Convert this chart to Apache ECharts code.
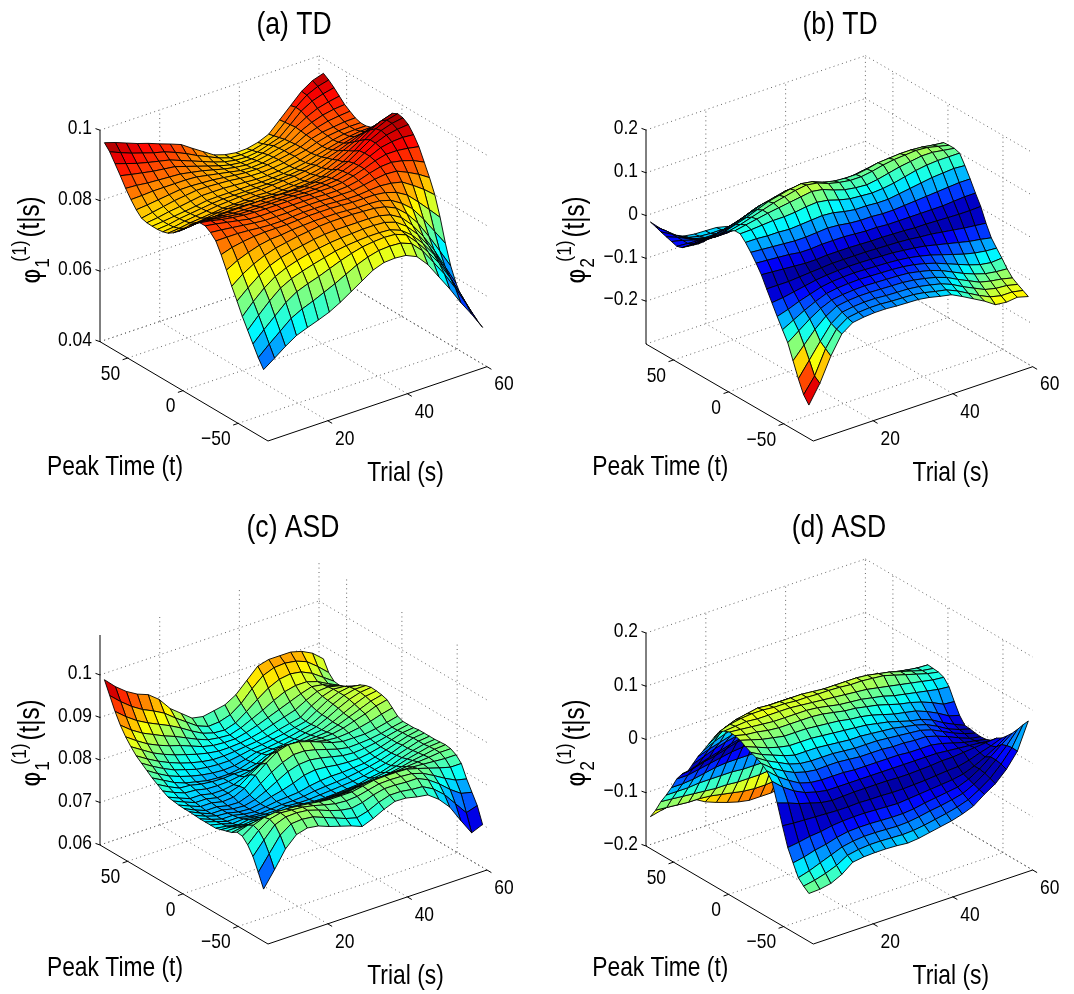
<!DOCTYPE html>
<html><head><meta charset="utf-8">
<style>html,body{margin:0;padding:0;background:#fff}#c{width:1074px;height:994px}</style>
<script src="https://cdn.jsdelivr.net/npm/echarts@6/dist/echarts.min.js"></script></head>
<body><div id="c"></div>
<script>
// rows: Peak Time t (low to high); columns: Trial s (low to high)
const trialGrid=[5,7.75,10.5,13.25,16,18.75,21.5,24.25,27,29.75,32.5,35.25,38,40.75,43.5,46.25,49,51.75,54.5,57.25,60];
const peakGrid=[-73,-68.2,-63.4,-58.6,-53.8,-49,-44.2,-39.4,-34.6,-29.8,-25,-20.2,-15.4,-10.6,-5.8,-1,3.8,8.6,13.4,18.2,23,27.8,32.6,37.4,42.2,47,51.8,56.6,61.4,66.2,71];
const trialTicks=[20,40,60];
const peakTicks=[-50,0,50];
// panel (a), value x 1e-4
const phi1TD=[
[595,617,640,660,672,683,695,712,732,752,772,783,785,782,768,735,690,645,596,552,504],
[620,648,674,700,716,728,742,756,772,788,800,808,810,808,796,765,722,678,628,572,515],
[650,680,708,736,756,768,778,790,802,812,820,824,826,824,812,780,742,700,648,590,528],
[680,712,742,768,784,795,804,812,820,825,828,830,830,828,816,792,758,716,665,604,542],
[710,742,770,792,806,816,824,830,835,838,840,842,842,840,830,808,775,732,680,618,556],
[745,772,796,814,826,834,840,846,850,852,852,852,852,850,842,824,792,750,700,642,585],
[778,802,820,834,844,850,856,860,864,866,866,866,864,862,856,842,815,778,730,678,625],
[815,832,844,854,860,862,866,868,870,870,870,868,866,866,864,855,836,810,770,725,680],
[850,860,866,870,872,872,872,874,876,876,876,874,872,872,872,868,858,840,810,778,745],
[880,880,880,878,875,873,873,875,877,877,877,875,873,873,876,878,875,868,848,826,800],
[895,892,888,884,880,877,877,877,879,879,879,877,877,877,882,888,892,890,876,860,840],
[905,900,894,888,882,880,880,880,880,880,880,878,878,880,886,896,904,906,900,890,875],
[905,900,893,888,884,882,881,881,881,881,879,879,879,882,890,900,912,920,920,916,910],
[895,891,887,882,878,877,877,877,877,877,875,875,877,880,888,900,916,930,936,938,935],
[880,879,877,875,872,871,871,871,871,871,871,871,873,876,886,898,916,934,946,952,955],
[860,864,867,866,866,867,867,867,867,865,865,865,867,872,882,894,914,934,950,960,965],
[845,848,851,852,854,855,855,853,853,853,853,855,857,862,872,884,904,926,946,960,968],
[832,834,838,842,846,848,848,848,848,846,848,850,852,858,866,880,896,914,934,950,960],
[822,825,830,833,836,840,841,842,844,842,844,846,848,853,860,873,888,902,918,930,940],
[817,820,826,830,834,838,840,842,842,842,844,846,848,852,858,868,878,890,902,912,915],
[815,818,824,828,832,836,838,838,838,838,838,840,842,846,852,862,872,880,888,892,895],
[815,818,822,826,830,835,836,836,836,836,835,836,838,842,848,858,866,874,880,884,885],
[816,820,826,830,835,840,840,840,838,836,834,834,836,840,846,855,864,872,878,880,880],
[820,826,832,838,842,846,846,844,842,838,835,834,836,840,848,855,866,874,878,880,880],
[835,838,842,846,850,850,848,846,842,838,835,834,836,840,846,855,868,876,880,884,885],
[855,856,858,858,858,858,856,850,844,838,832,830,832,838,846,854,870,880,888,892,895],
[878,876,872,870,868,866,860,854,846,838,832,828,830,836,844,852,872,886,896,902,905],
[905,898,892,886,882,878,868,858,848,838,830,826,826,832,842,850,874,892,906,914,920],
[930,920,910,902,895,888,876,864,852,840,830,824,822,826,836,846,872,900,918,928,935],
[955,942,930,920,910,902,890,876,860,846,832,822,820,822,830,842,870,902,926,940,948],
[972,962,950,938,928,916,905,893,872,852,832,822,817,818,825,838,868,898,928,948,958]];
// panel (b), value x 1e-3
const phi2TD=[
[-222,-180,-125,-82,-64,-60,-58,-58,-60,-61,-62,-66,-72,-77,-90,-104,-118,-135,-138,-135,-142],
[-205,-170,-115,-78,-60,-56,-54,-54,-56,-57,-58,-62,-68,-73,-84,-98,-112,-124,-130,-130,-135],
[-175,-140,-105,-72,-54,-50,-48,-48,-50,-51,-52,-55,-60,-66,-76,-90,-102,-114,-120,-122,-128],
[-140,-112,-84,-62,-47,-43,-41,-41,-42,-43,-44,-47,-52,-58,-67,-80,-92,-104,-110,-114,-120],
[-105,-86,-67,-51,-40,-36,-34,-33,-34,-35,-36,-38,-43,-49,-58,-70,-82,-92,-100,-104,-106],
[-82,-68,-54,-42,-32,-28,-26,-25,-26,-27,-28,-30,-34,-40,-48,-58,-68,-78,-86,-90,-88],
[-58,-50,-40,-32,-24,-20,-18,-17,-18,-19,-20,-22,-25,-30,-36,-44,-52,-60,-66,-70,-72],
[-33,-30,-25,-20,-15,-12,-10,-9,-9,-10,-11,-12,-15,-18,-22,-28,-34,-40,-46,-50,-55],
[-8,-8,-8,-6,-4,-2,0,0,0,0,-1,-2,-3,-5,-8,-10,-14,-18,-22,-25,-28],
[18,16,14,12,10,10,12,12,12,11,10,10,9,8,6,6,5,4,3,3,4],
[38,36,34,32,28,28,30,30,30,28,26,26,24,24,24,24,24,24,26,28,28],
[56,54,52,50,48,48,50,52,50,46,44,44,42,42,44,46,48,50,52,54,54],
[72,72,70,70,68,70,72,74,72,66,62,62,60,60,64,68,72,76,78,80,78],
[85,86,88,90,90,92,96,98,94,86,80,78,76,78,82,88,94,98,100,100,100],
[85,90,95,100,104,108,112,116,112,102,94,90,88,92,98,104,108,112,112,108,104],
[78,84,92,100,108,114,120,124,120,110,104,100,100,104,110,114,116,118,116,110,104],
[68,76,84,94,104,110,116,120,116,106,100,98,98,102,108,110,112,112,110,106,103],
[55,62,72,82,92,98,104,106,102,94,88,86,86,90,94,96,96,96,94,90,88],
[44,50,58,68,78,82,88,90,86,80,74,72,72,76,80,82,82,80,78,76,72],
[30,38,44,52,62,66,72,74,70,64,60,58,58,60,64,66,66,64,62,60,56],
[16,24,30,36,44,50,54,56,54,48,44,42,42,44,48,50,50,48,46,44,40],
[4,10,14,20,26,32,38,40,38,32,28,26,26,28,32,34,34,32,30,28,26],
[-6,-4,0,4,10,14,20,22,20,16,12,10,10,12,16,18,18,16,14,12,10],
[-16,-14,-14,-10,-6,-2,2,4,4,0,-4,-6,-6,-4,0,2,2,0,-2,-4,-6],
[-26,-26,-26,-26,-22,-18,-16,-14,-18,-26,-34,-38,-40,-40,-38,-36,-36,-38,-38,-36,-34],
[-30,-32,-34,-38,-38,-36,-34,-34,-40,-50,-58,-62,-64,-64,-62,-60,-58,-58,-58,-56,-52],
[-26,-32,-40,-46,-50,-50,-48,-50,-58,-70,-80,-86,-88,-88,-86,-84,-82,-80,-78,-76,-72],
[-22,-32,-44,-54,-58,-58,-58,-62,-72,-86,-98,-104,-106,-106,-104,-102,-100,-98,-96,-94,-90],
[-18,-32,-48,-60,-66,-66,-66,-72,-84,-100,-112,-118,-120,-120,-118,-116,-114,-112,-110,-108,-104],
[-13,-32,-52,-64,-70,-72,-72,-78,-92,-110,-124,-130,-132,-132,-130,-128,-126,-124,-122,-120,-116],
[-9,-34,-56,-68,-72,-73,-74,-80,-98,-116,-130,-136,-138,-138,-136,-134,-132,-130,-128,-126,-122]];
// panel (c), value x 1e-4
const phi1ASD=[
[723,760,800,825,832,828,818,810,802,792,802,815,825,824,818,814,795,768,728,690,701],
[755,790,825,843,845,842,832,822,812,805,812,824,832,832,828,826,812,790,760,730,738],
[785,815,842,852,853,850,842,832,824,820,825,834,840,840,838,838,826,808,786,768,762],
[805,830,848,854,852,850,845,838,832,830,832,838,844,845,844,842,834,820,805,792,786],
[818,835,845,848,847,845,842,838,835,835,835,840,845,846,846,845,838,830,822,815,815],
[820,828,832,834,832,830,830,828,826,826,826,830,834,836,836,835,834,832,830,828,828],
[812,816,816,816,815,815,814,814,814,815,815,818,820,822,824,825,828,830,832,835,835],
[808,808,806,806,804,804,804,804,802,804,805,806,808,810,812,815,820,826,830,835,837],
[804,802,798,800,796,794,794,796,794,794,795,796,798,800,804,808,814,822,828,834,836],
[800,796,790,794,790,788,788,790,788,785,785,786,788,790,796,800,808,818,826,832,835],
[800,794,786,788,784,782,782,784,782,782,784,786,788,790,794,800,806,816,824,832,835],
[800,792,784,784,778,776,778,780,780,782,786,788,790,792,796,800,806,814,824,832,835],
[800,790,782,782,776,773,776,780,782,784,790,794,796,796,798,800,806,814,822,830,835],
[801,790,782,780,774,772,776,784,790,798,808,812,810,806,804,804,808,814,822,830,833],
[802,790,780,780,774,772,778,790,804,818,826,828,824,818,812,810,812,816,822,828,833],
[802,790,780,780,774,773,782,800,818,832,842,842,836,828,820,815,816,818,822,828,833],
[803,792,782,782,776,778,790,812,832,850,858,856,848,838,828,822,822,822,826,832,838],
[805,794,784,784,778,780,788,806,822,838,846,846,840,832,826,824,826,830,836,844,850],
[807,796,786,786,780,780,784,794,806,820,835,834,830,826,824,825,830,838,846,856,862],
[814,802,792,790,784,783,784,788,792,802,815,818,818,818,820,822,830,840,850,860,866],
[822,808,796,794,788,785,784,786,786,792,804,808,810,812,816,820,830,842,854,864,868],
[830,816,802,792,786,780,778,778,782,790,800,802,804,808,814,820,832,846,858,866,869],
[840,824,810,800,792,786,782,780,782,788,796,798,802,806,812,818,832,848,860,866,866],
[850,834,820,808,800,792,788,786,786,790,795,798,802,806,812,818,834,850,860,864,860],
[860,844,830,818,808,800,794,790,790,792,795,798,802,808,814,820,838,852,860,858,850],
[874,858,842,830,820,812,804,798,794,794,796,800,806,814,822,830,844,856,858,852,840],
[890,872,856,844,834,826,816,806,800,798,798,804,812,822,832,842,852,860,856,844,832],
[910,890,874,862,850,840,828,816,806,802,800,808,820,832,846,858,864,864,856,842,830],
[935,914,896,882,870,858,844,828,814,806,804,812,830,850,868,880,884,880,868,850,832],
[965,942,922,906,894,880,860,842,824,814,816,824,842,868,890,900,902,898,888,868,845],
[995,970,950,935,925,905,875,855,835,830,835,840,855,880,905,912,912,912,905,892,870]];
// panel (d), value x 1e-3
const phi2ASD=[
[-110,-109,-105,-95,-79,-76,-75,-75,-76,-78,-76,-72,-68,-64,-58,-50,-35,-22,-2,25,75],
[-102,-98,-92,-84,-72,-68,-66,-66,-67,-68,-67,-64,-60,-56,-51,-44,-32,-18,2,26,62],
[-92,-86,-78,-70,-62,-58,-56,-56,-57,-58,-57,-54,-50,-47,-43,-38,-28,-14,4,24,48],
[-70,-66,-60,-56,-50,-46,-45,-45,-46,-47,-47,-45,-41,-38,-35,-32,-24,-12,4,20,35],
[-47,-44,-40,-38,-34,-32,-31,-31,-32,-33,-34,-32,-30,-28,-26,-24,-20,-12,-2,10,24],
[-12,-14,-15,-16,-17,-18,-18,-17,-18,-18,-19,-19,-18,-17,-15,-13,-12,-7,0,6,14],
[25,18,10,4,-2,-5,-4,-3,-3,-3,-3,-4,-4,-3,-2,0,0,2,4,6,8],
[60,42,28,18,12,8,8,8,8,8,8,8,8,8,8,8,6,4,2,0,-2],
[74,56,42,30,24,22,22,22,20,20,20,20,20,18,18,18,14,8,2,-2,-6],
[82,66,54,44,38,35,36,36,34,32,32,32,30,30,28,28,22,14,5,-3,-7],
[87,74,64,54,48,46,46,46,44,42,42,42,40,38,36,34,28,18,8,0,-6],
[91,80,72,64,58,58,58,56,54,52,52,50,48,46,42,38,32,22,10,2,-4],
[96,88,80,74,70,70,70,68,66,64,62,60,56,52,46,40,36,28,16,6,-3],
[102,96,90,86,82,82,82,80,78,76,72,70,66,60,54,50,46,38,28,16,10],
[105,100,98,94,92,92,92,92,90,86,82,80,76,72,66,60,56,50,42,32,30],
[106,104,102,100,98,98,98,98,96,92,88,86,84,80,76,70,66,62,58,54,52],
[102,104,106,104,104,104,104,102,100,98,96,94,92,90,86,82,78,74,70,66,64],
[95,102,106,108,108,106,106,104,104,103,103,102,100,100,98,96,90,84,78,72,68],
[78,90,98,102,106,104,104,104,104,102,100,100,100,100,98,94,90,84,78,72,69],
[60,72,84,90,94,95,95,95,94,92,90,90,90,90,88,86,82,78,74,71,70],
[42,52,60,66,70,70,72,74,75,75,75,74,74,74,74,72,70,68,66,62,60],
[25,32,38,44,50,54,56,58,58,58,58,58,58,58,56,56,54,52,50,48,46],
[5,12,20,26,30,35,36,38,40,40,40,40,40,40,40,40,38,36,34,32,30],
[-15,-8,-2,4,10,15,18,20,20,22,22,22,22,22,22,22,22,20,18,16,15],
[-25,-22,-16,-12,-6,0,2,4,4,4,5,5,5,5,5,5,4,4,2,2,0],
[-40,-40,-36,-32,-28,-24,-22,-20,-20,-20,-20,-20,-20,-18,-18,-16,-16,-16,-16,-16,-15],
[-62,-62,-60,-56,-52,-50,-50,-50,-50,-50,-50,-50,-48,-46,-44,-40,-38,-36,-34,-32,-30],
[-82,-82,-82,-80,-80,-80,-80,-82,-82,-82,-82,-82,-78,-76,-72,-68,-62,-56,-52,-50,-50],
[-100,-102,-104,-106,-108,-110,-110,-112,-112,-112,-110,-110,-108,-104,-100,-95,-90,-82,-76,-72,-70],
[-122,-124,-126,-128,-128,-130,-134,-138,-142,-144,-144,-142,-138,-134,-128,-122,-114,-106,-100,-92,-85],
[-140,-135,-130,-127,-135,-147,-155,-162,-168,-172,-172,-172,-168,-162,-156,-150,-140,-130,-120,-110,-100]];
const zTicksA=[0.04,0.06,0.08,0.1], zTicksB=[-0.2,-0.1,0,0.1,0.2], zTicksC=[0.06,0.07,0.08,0.09,0.1], zTicksD=[-0.2,-0.1,0,0.1,0.2];
const titles=['(a) TD','(b) TD','(c) ASD','(d) ASD'];

const FONT='"Liberation Sans",Arial,sans-serif', NARROW=0.83;
const sAxis=[5,60], tAxis=[-77,75];
const minus=v=>String(v).replace('-','\u2212');
const panels=[
 {title:titles[0],tx:294,ty:25,F:[268,441],u:[219,74.3],v:[-168,99.3],zr:[0.04,0.1],zPx:211.5,ticks:zTicksA,data:phi1TD,scale:1e-4,abs:false,zero:0,cr:[0.0504,0.0985],sub:'1'},
 {title:titles[1],tx:840,ty:25,F:[813.3,441],u:[219.4,74.3],v:[-167.3,97],zr:[-0.3,0.2],zPx:214,ticks:zTicksB,data:phi2TD,scale:1e-3,abs:true,zero:0,cr:[0,0.215],sub:'2'},
 {title:titles[2],tx:293,ty:528,F:[268,944],u:[219,74],v:[-168,99],zr:[0.06,0.1094],zPx:210,ticks:zTicksC,data:phi1ASD,scale:1e-4,abs:false,zero:0,cr:[0.0685,0.0995],sub:'1'},
 {title:titles[3],tx:839,ty:528,F:[813.3,944],u:[219.4,74],v:[-167.3,98],zr:[-0.2,0.2],zPx:213,ticks:zTicksD,data:phi2ASD,scale:1e-3,abs:true,zero:-0.011,cr:[0,0.196],sub:'2'}
];
function jet(x){x=Math.max(0,Math.min(0.9999,x));x=(Math.floor(x*64)+0.5)/64;
 const c=v=>Math.round(255*Math.max(0,Math.min(1,1.5-Math.abs(4*x-v))));
 return 'rgb('+c(3)+','+c(2)+','+c(1)+')';}
function projector(p){return (s,t,z)=>{
 const fs=(s-sAxis[0])/(sAxis[1]-sAxis[0]),ft=(t-tAxis[0])/(tAxis[1]-tAxis[0]),fz=(z-p.zr[0])/(p.zr[1]-p.zr[0]);
 return [p.u[0]*fs+p.v[0]*ft,p.u[1]*fs+p.v[1]*ft+p.zPx*fz];};}

const grid=[],xAxis=[],yAxis=[],series=[];
panels.forEach((p,idx)=>{
 const H=p.u[1]+p.v[1]+p.zPx, W=p.u[0]-p.v[0];
 grid.push({left:p.F[0]+p.v[0],top:p.F[1]-H,width:W,height:H});
 xAxis.push({type:'value',gridIndex:idx,min:p.v[0],max:p.u[0],show:false});
 yAxis.push({type:'value',gridIndex:idx,min:0,max:H,show:false});
 const P=projector(p), [s0,s1]=sAxis,[t0,t1]=tAxis,[z0,z1]=p.zr;
 const dots=[],solid=[];
 p.ticks.forEach(z=>{dots.push([[s0,t1,z],[s1,t1,z]]);dots.push([[s1,t1,z],[s1,t0,z]]);});
 trialTicks.forEach(s=>{dots.push([[s,t0,z0],[s,t1,z0]]);if(s<s1)dots.push([[s,t1,z0],[s,t1,z1]]);});
 peakTicks.forEach(t=>{dots.push([[s0,t,z0],[s1,t,z0]]);dots.push([[s1,t,z0],[s1,t,z1]]);});
 dots.push([[s1,t1,z0],[s1,t1,z1]]);dots.push([[s0,t1,z0],[s1,t1,z0]]);dots.push([[s1,t1,z0],[s1,t0,z0]]);
 solid.push([[s0,t1,z0],[s0,t1,z1]],[[s0,t0,z0],[s0,t1,z0]],[[s0,t0,z0],[s1,t0,z0]]);
 const tickMarks=[];
 p.ticks.forEach(z=>tickMarks.push({at:[s0,t1,z],d:[-4.5,-1.6]}));
 trialTicks.forEach(s=>tickMarks.push({at:[s,t0,z0],d:[4.4,2.6]}));
 peakTicks.forEach(t=>tickMarks.push({at:[s0,t,z0],d:[-5,1.7]}));
 const line=(api,a,b,style,d)=>{const q1=api.coord(P(a[0],a[1],a[2]));const q2=b?api.coord(P(b[0],b[1],b[2])):[q1[0]+d[0],q1[1]+d[1]];
   return {type:'line',shape:{x1:q1[0],y1:q1[1],x2:q2[0],y2:q2[1]},style};};
 series.push({type:'custom',name:'frame'+idx,xAxisIndex:idx,yAxisIndex:idx,silent:true,z:1,animation:false,progressive:0,
  data:dots.map((_,i)=>[0,0,i]),
  renderItem:(pr,api)=>{const g=dots[pr.dataIndex];return line(api,g[0],g[1],{stroke:'#666',lineWidth:1,lineDash:[1,3.4],fill:null});}});
 const cells=[];
 for(let j=peakGrid.length-2;j>=0;j--)for(let k=trialGrid.length-2;k>=0;k--)cells.push([k,j]);
 series.push({type:'custom',name:p.title,xAxisIndex:idx,yAxisIndex:idx,silent:true,z:2,animation:false,progressive:0,
  data:cells,
  renderItem:(pr,api)=>{const [k,j]=cells[pr.dataIndex];
   const cs=[[k,j],[k+1,j],[k+1,j+1],[k,j+1]];let m=0;
   const pts=cs.map(([a,b])=>{const z=p.data[b][a]*p.scale;m+=p.abs?Math.abs(z-p.zero):z;return api.coord(P(trialGrid[a],peakGrid[b],z));});
   m/=4;
   return {type:'polygon',shape:{points:pts},style:{fill:jet((m-p.cr[0])/(p.cr[1]-p.cr[0])),stroke:'#000',lineWidth:0.9,lineJoin:'round'}};}});
 const texts=[];
 p.ticks.forEach(z=>texts.push({at:[s0,t1,z],o:[-8,-1.5],t:minus(z),size:21,align:'right'}));
 trialTicks.forEach(s=>texts.push({at:[s,t0,z0],o:[17,18],t:String(s),size:21,align:'center'}));
 peakTicks.forEach(t=>texts.push({at:[s0,t,z0],o:[-7.5,16],t:minus(t),size:21,align:'right'}));
 texts.push({at:[s0,t0,z0],o:[-153,idx<2?26:24.5],t:'Peak Time (t)',size:27.5,align:'center'});
 texts.push({at:[s0,t0,z0],o:[137.5,32],t:'Trial (s)',size:27.5,align:'center'});
 texts.push({at:[s0,t0,z0],o:[-235,-165],t:'\u03c6',size:26,align:'center',rot:1,font:'"DejaVu Sans"',sx:0.9});
 texts.push({at:[s0,t0,z0],o:[-225,-178],t:p.sub,size:21,align:'center',rot:1});
 texts.push({at:[s0,t0,z0],o:[-248,-190],t:'(1)',size:21,align:'center',rot:1});
 texts.push({at:[s0,t0,z0],o:[-237,-224],t:'(t|s)',size:29,align:'center',rot:1});
 series.push({type:'custom',name:'axes'+idx,xAxisIndex:idx,yAxisIndex:idx,silent:true,z:3,animation:false,progressive:0,
  data:[[0,0]],
  renderItem:(pr,api)=>{
   const ch=[];
   solid.forEach(g=>ch.push(line(api,g[0],g[1],{stroke:'#000',lineWidth:1,fill:null})));
   tickMarks.forEach(m=>ch.push(line(api,m.at,null,{stroke:'#000',lineWidth:1,fill:null},m.d)));
   texts.forEach(x=>{const q=api.coord(P(x.at[0],x.at[1],x.at[2]));
    ch.push({type:'text',x:q[0]+x.o[0],y:q[1]+x.o[1],rotation:x.rot?Math.PI/2:0,scaleX:x.sx||NARROW,
     style:{text:x.t,fontSize:x.size,fontFamily:x.font||FONT,fill:'#000',align:x.align,verticalAlign:'middle'}});});
   ch.push({type:'text',x:p.tx,y:p.ty,scaleX:NARROW,style:{text:p.title,fontSize:32,fontFamily:FONT,fill:'#000',align:'center',verticalAlign:'middle'}});
   return {type:'group',children:ch};}});
});
const chart=echarts.init(document.getElementById('c'),null,{renderer:'canvas',width:1074,height:994});
chart.setOption({animation:false,backgroundColor:'#fff',grid,xAxis,yAxis,series,tooltip:{show:false}});
</script></body></html>
